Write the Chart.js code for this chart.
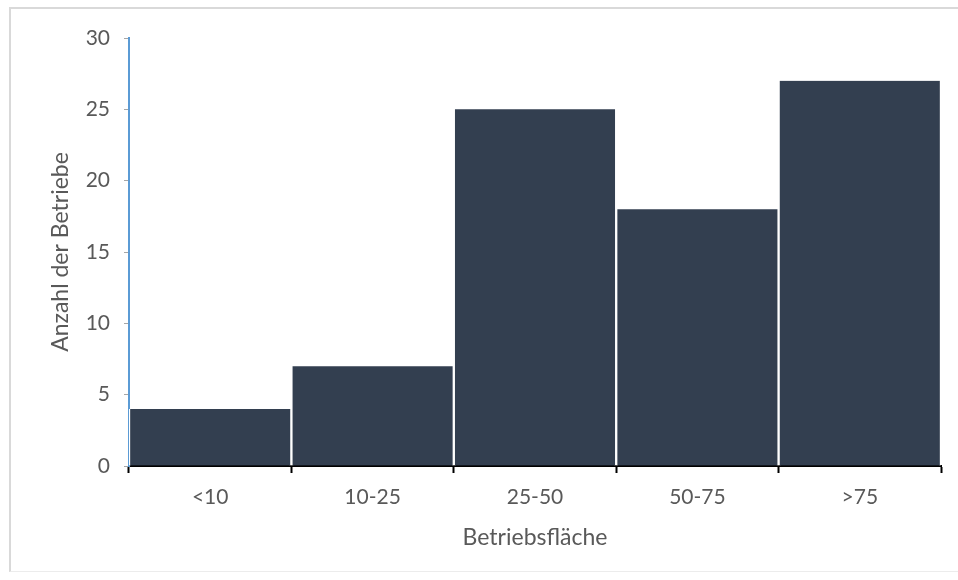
<!DOCTYPE html>
<html lang="de">
<head>
    <meta charset="UTF-8">
    <title>Betriebsfläche</title>
    <script src="https://cdn.jsdelivr.net/npm/chart.js"></script>
    <style>
        body {
            margin: 0;
            padding: 0;
            background: #fff;
        }

        .wrap {
            position: relative;
            width: 958px;
            height: 580px;
        }

        /* Rahmen um das Diagramm */
        .frame {
            position: absolute;
            left: 9px;
            top: 7px;
            right: 0;
            height: 562px;
            border-left: 2px solid #d9d9d9;
            border-top: 2px solid #d9d9d9;
            border-bottom: 1px solid #ececec;
            pointer-events: none;
        }

        canvas {
            position: absolute;
            left: 0;
            top: 0;
        }
    </style>
</head>
<body>
    <div class="wrap">
        <canvas id="histChart" width="958" height="580"></canvas>
        <div class="frame"></div>
    </div>

    <script>
        // Größenklassen und Anzahl der Betriebe
        const klassen = ['<10', '10-25', '25-50', '50-75', '>75'];
        const anzahl = [4, 7, 25, 18, 27];
        const yTicks = [0, 5, 10, 15, 20, 25, 30];

        const grau = '#595959';
        const schrift = "Lato, 'Open Sans', sans-serif";

        const ctx = document.getElementById('histChart').getContext('2d');
        new Chart(ctx, {
            type: 'bar',
            data: {
                labels: klassen,
                datasets: [{
                    data: anzahl,
                    backgroundColor: '#333f50',
                    borderColor: '#ffffff',
                    borderWidth: { left: 1.5, right: 1.5, top: 0, bottom: 0 },
                    borderSkipped: false,
                    barPercentage: 1,
                    categoryPercentage: 1
                }]
            },
            options: {
                responsive: false,
                animation: false,
                layout: {
                    padding: { left: 0, top: 38, right: 17, bottom: 0 }
                },
                plugins: {
                    legend: { display: false },
                    tooltip: { enabled: false }
                },
                scales: {
                    x: {
                        z: 1,
                        offset: true,
                        grid: {
                            offset: true,
                            drawOnChartArea: false,
                            drawTicks: true,
                            tickLength: 7,
                            tickWidth: 2,
                            color: '#000'
                        },
                        border: { color: '#000', width: 2 },
                        ticks: {
                            color: grau,
                            font: { family: schrift, size: 21 },
                            padding: 12
                        },
                        title: {
                            display: true,
                            text: 'Betriebsfläche',
                            color: grau,
                            font: { family: schrift, size: 23 },
                            padding: { top: 0, bottom: 29 }
                        },
                        afterFit: function(scale) { scale.height = 114; }
                    },
                    y: {
                        z: 1,
                        min: 0,
                        max: 30,
                        afterBuildTicks: function(scale) {
                            scale.ticks = yTicks.map(v => ({ value: v }));
                        },
                        grid: {
                            drawOnChartArea: false,
                            drawTicks: true,
                            tickLength: 5,
                            color: '#a6a6a6'
                        },
                        border: { color: '#5b9bd5', width: 2 },
                        ticks: {
                            color: grau,
                            font: { family: schrift, size: 21 },
                            padding: 14
                        },
                        title: {
                            display: true,
                            text: 'Anzahl der Betriebe',
                            color: grau,
                            font: { family: schrift, size: 23 },
                            padding: { top: 47, bottom: 0 }
                        },
                        afterFit: function(scale) { scale.width = 129; }
                    }
                }
            }
        });
    </script>
</body>
</html>
